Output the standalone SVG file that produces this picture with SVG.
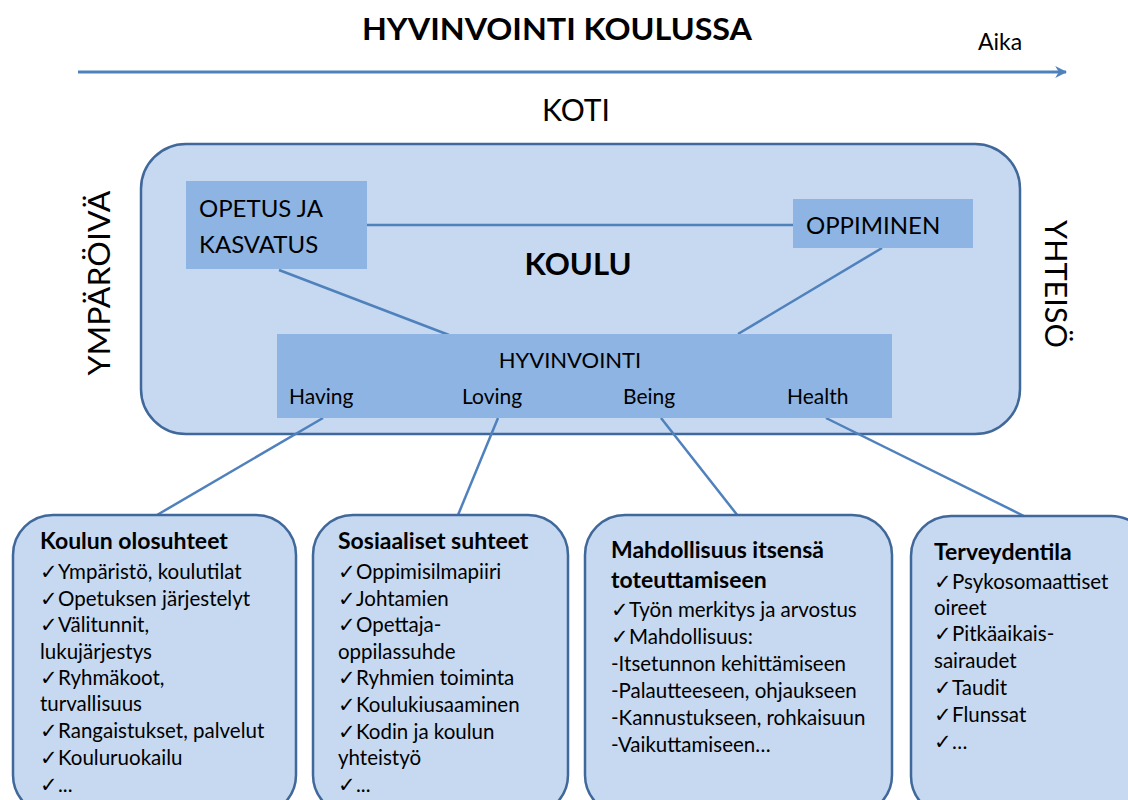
<svg xmlns="http://www.w3.org/2000/svg" width="1128" height="800" viewBox="0 0 1128 800">
<defs>
<marker id="arr" viewBox="0 0 10 10" refX="9" refY="5" markerWidth="4" markerHeight="4" orient="auto" markerUnits="strokeWidth">
<path d="M0,0 L10,5 L0,10 L3,5 z" fill="#4F81BD"/>
</marker>
<style>
text{font-family:Lato,"Open Sans","Liberation Sans",sans-serif;fill:#000;}
.big{font-size:30px;}
.lab{font-size:24px;}
.sm{font-size:20.5px;}
.hd{font-size:23px;font-weight:bold;}
.b{font-weight:bold;}
.outer{fill:#C6D9F1;stroke:#41689A;stroke-width:2.5;}
.inner{fill:#8EB4E3;}
.con{stroke:#4F81BD;stroke-width:2.5;fill:none;}
</style>
</defs>
<rect width="1128" height="800" fill="#fff"/>
<g id="title">
<text x="557" y="40" class="big b" text-anchor="middle" textLength="390" lengthAdjust="spacingAndGlyphs">HYVINVOINTI KOULUSSA</text>
<text x="978" y="50" font-size="23">Aika</text>
<text x="576" y="121" class="big" text-anchor="middle">KOTI</text>
</g>
<g id="time-axis">
<line x1="78" y1="72" x2="1066" y2="72" stroke="#4F81BD" stroke-width="3" marker-end="url(#arr)"/>
</g>
<g id="koulu">
<rect x="141" y="144" width="879" height="290" rx="45" class="outer"/>
<text x="578" y="275" class="b" font-size="31" text-anchor="middle" textLength="107" lengthAdjust="spacingAndGlyphs">KOULU</text>
</g>
<text x="0" y="0" font-size="30" text-anchor="middle" textLength="185" lengthAdjust="spacingAndGlyphs" transform="translate(110,283) rotate(-90)">YMPÄRÖIVÄ</text>
<text x="0" y="0" font-size="30" text-anchor="middle" textLength="128" lengthAdjust="spacingAndGlyphs" transform="translate(1045,284) rotate(90)">YHTEISÖ</text>
<g id="connectors">
<line x1="367" y1="225" x2="793" y2="225" class="con"/>
<line x1="279" y1="270" x2="449" y2="335" class="con"/>
<line x1="882" y1="248" x2="738" y2="334" class="con"/>
<line x1="323" y1="418" x2="157" y2="515" class="con"/>
<line x1="498" y1="418" x2="458" y2="515" class="con"/>
<line x1="661" y1="418" x2="738" y2="516" class="con"/>
<line x1="826" y1="418" x2="1024" y2="516" class="con"/>
</g>
<g id="opetus">
<rect x="186" y="181" width="181" height="88" class="inner"/>
<text x="199" y="217" class="lab" font-size="25">OPETUS JA</text>
<text x="199" y="253" class="lab" font-size="25">KASVATUS</text>
</g>
<g id="oppiminen">
<rect x="793" y="199" width="180" height="49" class="inner"/>
<text x="806" y="234" class="lab" font-size="25">OPPIMINEN</text>
</g>
<g id="hyvinvointi">
<rect x="277" y="334" width="615" height="84" class="inner"/>
<text x="570" y="368" font-size="22" text-anchor="middle">HYVINVOINTI</text>
<text x="289" y="404" font-size="21">Having</text>
<text x="462" y="404" font-size="21">Loving</text>
<text x="623" y="404" font-size="21">Being</text>
<text x="787" y="404" font-size="21">Health</text>
</g>
<g id="olosuhteet">
<rect x="13" y="515" width="283" height="300" rx="40" class="outer"/>
<text x="40" y="549" class="hd">Koulun olosuhteet</text>
<text x="40" y="579" class="sm">✓Ympäristö, koulutilat</text>
<text x="40" y="606" class="sm">✓Opetuksen järjestelyt</text>
<text x="40" y="632" class="sm">✓Välitunnit,</text>
<text x="40" y="659" class="sm">lukujärjestys</text>
<text x="40" y="685" class="sm">✓Ryhmäkoot,</text>
<text x="40" y="711" class="sm">turvallisuus</text>
<text x="40" y="738" class="sm">✓Rangaistukset, palvelut</text>
<text x="40" y="765" class="sm">✓Kouluruokailu</text>
<text x="40" y="792" class="sm">✓...</text>
</g>
<g id="sosiaaliset">
<rect x="313" y="515" width="255" height="300" rx="40" class="outer"/>
<text x="338" y="549" class="hd">Sosiaaliset suhteet</text>
<text x="338" y="579" class="sm">✓Oppimisilmapiiri</text>
<text x="338" y="606" class="sm">✓Johtamien</text>
<text x="338" y="632" class="sm">✓Opettaja-</text>
<text x="338" y="659" class="sm">oppilassuhde</text>
<text x="338" y="685" class="sm">✓Ryhmien toiminta</text>
<text x="338" y="712" class="sm">✓Koulukiusaaminen</text>
<text x="338" y="739" class="sm">✓Kodin ja koulun</text>
<text x="338" y="765" class="sm">yhteistyö</text>
<text x="338" y="792" class="sm">✓...</text>
</g>
<g id="mahdollisuus">
<rect x="585" y="515" width="307" height="300" rx="40" class="outer"/>
<text x="611" y="558" class="hd">Mahdollisuus itsensä</text>
<text x="611" y="588" class="hd">toteuttamiseen</text>
<text x="611" y="617" class="sm">✓Työn merkitys ja arvostus</text>
<text x="611" y="644" class="sm">✓Mahdollisuus:</text>
<text x="611" y="671" class="sm">-Itsetunnon kehittämiseen</text>
<text x="611" y="698" class="sm">-Palautteeseen, ohjaukseen</text>
<text x="611" y="725" class="sm">-Kannustukseen, rohkaisuun</text>
<text x="611" y="752" class="sm">-Vaikuttamiseen…</text>
</g>
<g id="terveydentila">
<rect x="911" y="516" width="240" height="300" rx="40" class="outer"/>
<text x="934" y="560" class="hd">Terveydentila</text>
<text x="934" y="589" class="sm">✓Psykosomaattiset</text>
<text x="934" y="615" class="sm">oireet</text>
<text x="934" y="641" class="sm">✓Pitkäaikais-</text>
<text x="934" y="668" class="sm">sairaudet</text>
<text x="934" y="695" class="sm">✓Taudit</text>
<text x="934" y="722" class="sm">✓Flunssat</text>
<text x="934" y="749" class="sm">✓…</text>
</g>
</svg>
